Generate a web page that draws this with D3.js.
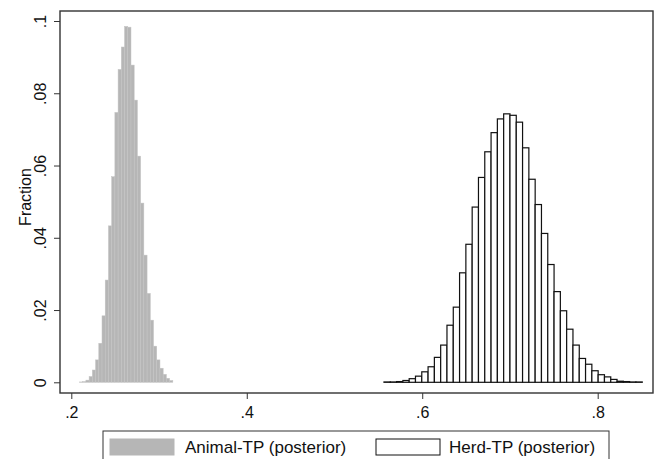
<!DOCTYPE html>
<html>
<head>
<meta charset="utf-8">
<script src="https://cdn.jsdelivr.net/npm/d3@7"></script>
<style>
  body { margin: 0; background: #fff; }
  text { font-family: "Liberation Sans", Arial, sans-serif; fill: #111; }
</style>
</head>
<body>
<script>
// histogram of posterior draws, fraction per bin
let animalStart = 0.2093;
let animalWidth = 0.00367;
let animalFrac = [0.0001, 0.0002, 0.0006, 0.0016, 0.0034, 0.0062, 0.0108, 0.0184, 0.0283, 0.0433,
  0.0569, 0.0747, 0.0866, 0.0928, 0.0985, 0.0983, 0.0878, 0.0781, 0.0626, 0.0496,
  0.0352, 0.0246, 0.0172, 0.0100, 0.0062, 0.0039, 0.0022, 0.0011, 0.0005];

let herdStart = 0.5564;
let herdWidth = 0.00718;
let herdFrac = [0.0001, 0.0001, 0.0002, 0.0005, 0.0010, 0.0017, 0.0029, 0.0043, 0.0069, 0.0103,
  0.0158, 0.0208, 0.0303, 0.0382, 0.0485, 0.0567, 0.0638, 0.0691, 0.0729, 0.0743,
  0.0739, 0.0720, 0.0649, 0.0562, 0.0492, 0.0412, 0.0326, 0.0251, 0.0198, 0.0147,
  0.0103, 0.0066, 0.0050, 0.0032, 0.0021, 0.0015, 0.0008, 0.0003, 0.0002, 0.0001, 0.0001];

let xTicks = [0.2, 0.4, 0.6, 0.8];
let yTicks = [0, 0.02, 0.04, 0.06, 0.08, 0.1];
let legendLabels = ["Animal-TP (posterior)", "Herd-TP (posterior)"];

let svgWidth = 659;
let svgHeight = 459;

let frame = { left: 60, right: 653, top: 11, bottom: 393 };

let svg = d3.select('body')
  .append('svg')
  .attr('width', svgWidth)
  .attr('height', svgHeight);

let x = d3.scaleLinear().domain([0.2, 0.8]).range([71.3, 597.7]);
let y = d3.scaleLinear().domain([0, 0.1]).range([382.3, 21]);

let fmt = d => d === 0 ? "0" : d3.format(".2~f")(d).replace(/^0/, "");

function bins(start, width, fracs) {
  return fracs.map((f, i) => ({ x0: start + i * width, x1: start + (i + 1) * width, f: f }));
}

// animal bars
svg.append('g')
  .selectAll('rect')
  .data(bins(animalStart, animalWidth, animalFrac))
  .enter()
  .append('rect')
  .attr('x', d => x(d.x0))
  .attr('width', d => x(d.x1) - x(d.x0))
  .attr('y', d => y(d.f))
  .attr('height', d => y(0) - y(d.f))
  .attr('fill', '#b6b6b6')
  .attr('stroke', '#c4c4c4')
  .attr('stroke-width', 0.5);

// herd bars
svg.append('g')
  .selectAll('rect')
  .data(bins(herdStart, herdWidth, herdFrac))
  .enter()
  .append('rect')
  .attr('x', d => x(d.x0))
  .attr('width', d => x(d.x1) - x(d.x0))
  .attr('y', d => y(d.f))
  .attr('height', d => y(0) - y(d.f))
  .attr('fill', '#fff')
  .attr('stroke', '#111')
  .attr('stroke-width', 1.2);

// frame
svg.append('rect')
  .attr('x', frame.left)
  .attr('y', frame.top)
  .attr('width', frame.right - frame.left)
  .attr('height', frame.bottom - frame.top)
  .attr('fill', 'none')
  .attr('stroke', '#333')
  .attr('stroke-width', 1.4);

let yAxis = svg.append('g')
  .attr('transform', `translate(${frame.left}, 0)`)
  .call(d3.axisLeft(y).tickValues(yTicks).tickFormat(fmt).tickSize(6).tickSizeOuter(0));
yAxis.select('.domain').remove();
yAxis.selectAll('line').attr('stroke', '#333');
yAxis.selectAll('text')
  .attr('x', 0).attr('dy', 0)
  .attr('text-anchor', 'middle')
  .attr('transform', 'translate(-14, 0) rotate(-90)')
  .style('font-size', '16px')
  .style('font-family', '"Liberation Sans", Arial, sans-serif');

let xAxis = svg.append('g')
  .attr('transform', `translate(0, ${frame.bottom})`)
  .call(d3.axisBottom(x).tickValues(xTicks).tickFormat(fmt).tickSize(6).tickSizeOuter(0));
xAxis.select('.domain').remove();
xAxis.selectAll('line').attr('stroke', '#333');
xAxis.selectAll('text')
  .attr('y', 25).attr('dy', 0)
  .style('font-size', '16px')
  .style('font-family', '"Liberation Sans", Arial, sans-serif');

svg.append('text')
  .attr('transform', 'translate(31, 197) rotate(-90)')
  .attr('text-anchor', 'middle')
  .style('font-size', '16px')
  .text('Fraction');

// legend
let legend = svg.append('g');
legend.append('rect')
  .attr('x', 103).attr('y', 431)
  .attr('width', 506).attr('height', 40)
  .attr('fill', '#fff')
  .attr('stroke', '#333')
  .attr('stroke-width', 1);

let items = [
  { label: legendLabels[0], sx: 110, tx: 185, fill: '#b6b6b6', stroke: '#b6b6b6' },
  { label: legendLabels[1], sx: 376, tx: 449, fill: '#fff', stroke: '#111' }
];
items.forEach(it => {
  legend.append('rect')
    .attr('x', it.sx).attr('y', 439)
    .attr('width', 64).attr('height', 16)
    .attr('fill', it.fill)
    .attr('stroke', it.stroke)
    .attr('stroke-width', 1);
  legend.append('text')
    .attr('x', it.tx).attr('y', 452.5)
    .style('font-size', '17px')
    .text(it.label);
});
</script>
</body>
</html>
